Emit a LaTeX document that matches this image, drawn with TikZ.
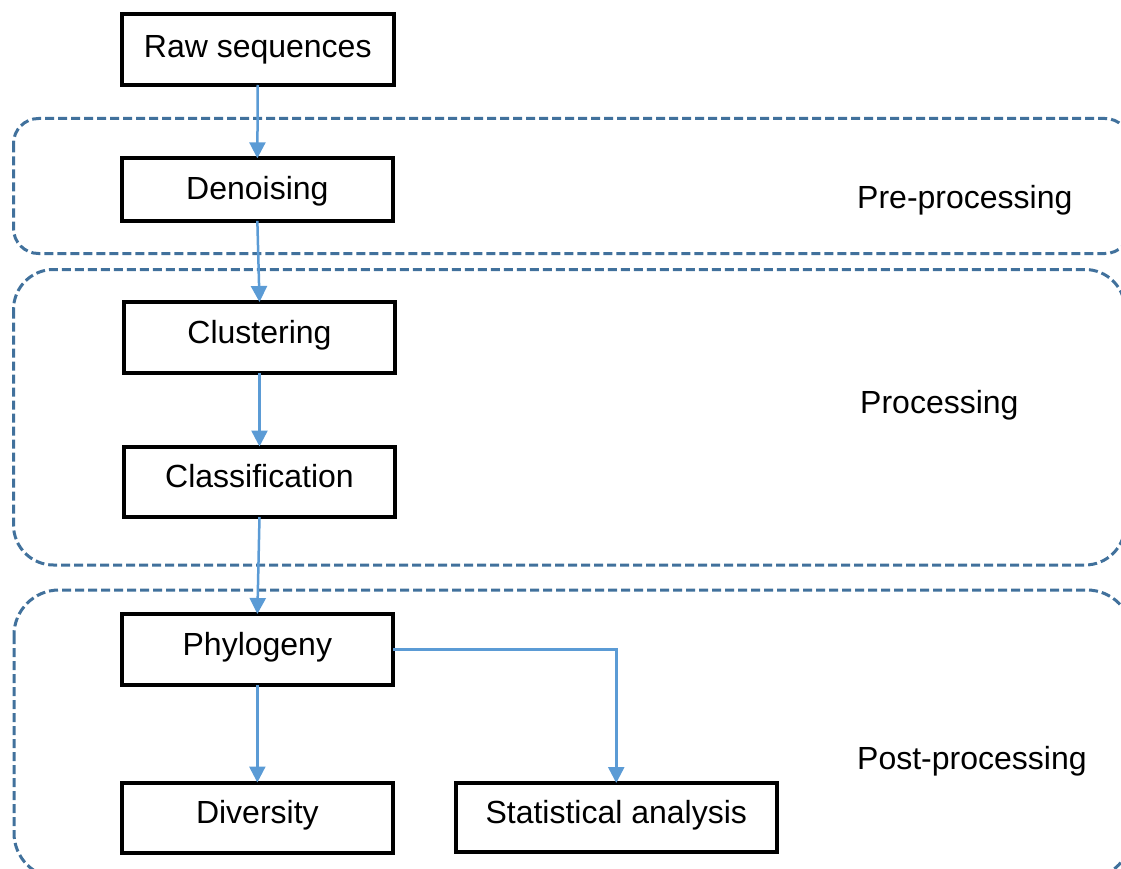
\documentclass[tikz,border=0pt]{standalone}
\usepackage{fontspec}
\setmainfont{Liberation Sans}
\usetikzlibrary{arrows.meta}
\definecolor{regionblue}{RGB}{65,113,156}
\definecolor{arrowblue}{RGB}{91,155,213}
\tikzset{
  stepbox/.style={draw=black, line width=4pt, inner sep=0pt, outer sep=0pt,
    font=\fontsize{32}{38}\selectfont, text height=23pt, text depth=12pt},
  region/.style={draw=regionblue, line width=3pt, dash pattern=on 9pt off 4pt},
  regionlabel/.style={anchor=base west, inner sep=0pt, font=\fontsize{32}{38}\selectfont},
  flow/.style={draw=arrowblue, line width=2.5pt, -{Triangle[length=16pt,width=16pt]}}
}
\begin{document}
\begin{tikzpicture}[x=1pt,y=-1pt]
\useasboundingbox (0,0) rectangle (1121,869);
\begin{scope}
  \clip (0,0) rectangle (1121,869);
  \draw[region, rounded corners=25pt] (13.5,118.5) rectangle (1130,253.5);
  \draw[region, rounded corners=40pt] (13.5,269.5) rectangle (1125,565);
  \draw[region, rounded corners=45pt] (14,590) rectangle (1132,878);
\end{scope}

\node[stepbox, minimum width=272.5pt, minimum height=70.5pt, text depth=7.5pt] (raw) at (257.75,49.75) {Raw sequences};
\node[stepbox, minimum width=271.3pt, minimum height=62.5pt, text depth=4pt] (den) at (257.35,189.55) {Denoising};
\node[stepbox, minimum width=271pt, minimum height=71pt] (clu) at (259.5,337.5) {Clustering};
\node[stepbox, minimum width=271pt, minimum height=70.5pt] (cla) at (259.5,481.75) {Classification};
\node[stepbox, minimum width=271.3pt, minimum height=71pt] (phy) at (257.35,649.5) {Phylogeny};
\node[stepbox, minimum width=271.3pt, minimum height=70pt] (div) at (257.35,817.5) {Diversity};
\node[stepbox, minimum width=321.5pt, minimum height=69pt] (sta) at (616.25,817.5) {Statistical analysis};

\node[regionlabel] (pre) at (857,208) {Pre-processing};
\node[regionlabel] (proc) at (860,413) {Processing};
\node[regionlabel] (post) at (857,769) {Post-processing};

\draw[flow] (raw.south) -- (den.north);
\draw[flow] (den.south) -- (clu.north);
\draw[flow] (clu.south) -- (cla.north);
\draw[flow] (cla.south) -- (phy.north);
\draw[flow] (phy.south) -- (div.north);
\draw[flow] (phy.east) -| (sta.north);
\end{tikzpicture}
\end{document}
